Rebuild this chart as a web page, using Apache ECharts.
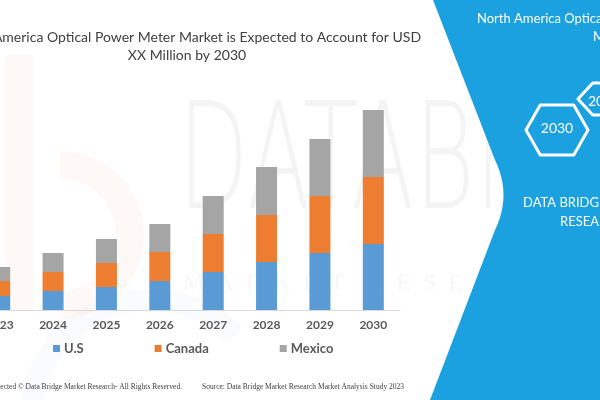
<!DOCTYPE html>
<html>
<head>
<meta charset="utf-8">
<script src="https://cdn.jsdelivr.net/npm/echarts@6/dist/echarts.min.js"></script>
<style>
html, body { margin: 0; padding: 0; background: #fff; overflow: hidden; }
/* chart is shifted left so the first year is cut like in the source image */
#main { position: absolute; left: -27px; top: 0; width: 627px; height: 400px; }
</style>
</head>
<body>
<div id="main"></div>
<script>
var years = ['2023', '2024', '2025', '2026', '2027', '2028', '2029', '2030'];
var usValues = [14, 19, 23, 29, 38, 48, 57, 66];
var canadaValues = [15, 19, 24, 29, 38, 47, 57, 67];
var mexicoValues = [14, 19, 24, 28, 38, 48, 57, 67];

var shift = 27;
var myChart = echarts.init(document.getElementById('main'));

function hexagon(x, y, w, h) {
	var c = w * 0.23;
	return [[x, y + h / 2], [x + c, y], [x + w - c, y], [x + w, y + h / 2], [x + w - c, y + h], [x + c, y + h]];
}

// blue panel on the right: straight edges with a rounded tip
function panelShape() {
	var pts = [[433, 0], [495, 160]];
	for (var i = 1; i < 12; i++) {
		var t = i / 12;
		var x = (1 - t) * (1 - t) * 495 + 2 * (1 - t) * t * 512 + t * t * 495;
		var y = (1 - t) * (1 - t) * 160 + 2 * (1 - t) * t * 195 + t * t * 230;
		pts.push([x, y]);
	}
	pts.push([495, 230], [430, 400], [600, 400], [600, 0]);
	return pts;
}

var option = {
	backgroundColor: '#ffffff',
	animation: false,
	title: {
		text: 'North America Optical Power Meter Market is Expected to Account for USD\nXX Million by 2030',
		left: 187 + shift,
		top: 28,
		padding: 0,
		textAlign: 'center',
		textStyle: {
			fontFamily: 'Lato',
			fontSize: 14,
			fontWeight: 'normal',
			color: '#404040',
			lineHeight: 18
		}
	},
	legend: {
		data: ['U.S', 'Canada', 'Mexico'],
		left: 53 + shift,
		top: 342,
		padding: 0,
		itemWidth: 7,
		itemHeight: 7,
		itemGap: 71,
		icon: 'rect',
		textStyle: {
			fontFamily: 'Lato',
			fontSize: 13,
			fontWeight: 'bold',
			color: '#595959',
			padding: [0, 0, 0, -1]
		}
	},
	grid: {
		left: 0,
		right: 200,
		top: 110,
		bottom: 90
	},
	xAxis: {
		type: 'category',
		data: years,
		axisTick: { show: false },
		axisLine: { lineStyle: { color: '#d9d9d9', width: 1 } },
		axisLabel: {
			margin: 9,
			fontFamily: 'Lato',
			fontSize: 12,
			fontWeight: 'bold',
			color: '#595959'
		}
	},
	yAxis: {
		type: 'value',
		min: 0,
		max: 200,
		show: false,
		splitLine: { show: false }
	},
	graphic: [{
		type: 'group',
		x: shift,
		y: 0,
		children: [
			{
				type: 'rect', z: -10, silent: true,
				shape: { x: 5, y: 55, width: 28, height: 255 },
				style: { fill: 'rgba(240,140,90,0.05)' }
			},
			{
				type: 'arc', z: -10, silent: true,
				shape: { cx: 60, cy: 235, r: 70, startAngle: -Math.PI / 2, endAngle: Math.PI / 2 },
				style: { stroke: 'rgba(240,140,90,0.05)', lineWidth: 28, fill: null }
			},
			{
				type: 'arc', z: -10, silent: true,
				shape: { cx: 150, cy: 420, r: 120, startAngle: Math.PI, endAngle: Math.PI * 1.75 },
				style: { stroke: 'rgba(120,140,170,0.035)', lineWidth: 22, fill: null }
			},
			{
				type: 'text', z: -10, silent: true,
				x: 178, y: 96, scaleX: 0.62,
				style: {
					text: 'DATABRIDGE',
					fontFamily: 'DejaVu Sans',
					fontSize: 148,
					fontWeight: 'lighter',
					fill: 'rgba(0,0,0,0.045)'
				}
			},
			{
				type: 'text', z: -10, silent: true,
				x: 183, y: 272,
				style: {
					text: 'M  A  R  K  E  T    R  E  S  E  A  R  C  H',
					fontFamily: 'Liberation Serif',
					fontSize: 24,
					fill: 'rgba(0,0,0,0.035)'
				}
			},
			{
				type: 'polygon', z: 10, silent: true,
				shape: { points: panelShape() },
				style: { fill: '#1ba0e0' }
			},
			{
				type: 'text', z: 11, silent: true,
				x: 477, y: 12,
				style: {
					text: 'North America Optical Power Meter',
					fontFamily: 'Lato', fontSize: 13, fill: '#ffffff'
				}
			},
			{
				type: 'text', z: 11, silent: true,
				x: 593, y: 30,
				style: { text: 'Market', fontFamily: 'Lato', fontSize: 13, fill: '#ffffff' }
			},
			{
				type: 'polygon', z: 11, silent: true,
				shape: { points: hexagon(526, 105, 62, 50) },
				style: { fill: null, stroke: '#ffffff', lineWidth: 3, lineJoin: 'round' }
			},
			{
				type: 'polygon', z: 11, silent: true,
				shape: { points: hexagon(578, 83, 64, 32) },
				style: { fill: null, stroke: '#ffffff', lineWidth: 3, lineJoin: 'round' }
			},
			{
				type: 'text', z: 11, silent: true,
				x: 557, y: 128,
				style: { text: '2030', fontFamily: 'Lato', fontSize: 14, fill: '#ffffff', align: 'center', verticalAlign: 'middle' }
			},
			{
				type: 'text', z: 11, silent: true,
				x: 588, y: 101,
				style: { text: '2023', fontFamily: 'Lato', fontSize: 14, fill: '#ffffff', align: 'left', verticalAlign: 'middle' }
			},
			{
				type: 'text', z: 11, silent: true,
				x: 523, y: 196,
				style: { text: 'DATA BRIDGE MARKET', fontFamily: 'Lato', fontSize: 13, fill: '#ffffff' }
			},
			{
				type: 'text', z: 11, silent: true,
				x: 560, y: 215,
				style: { text: 'RESEARCH', fontFamily: 'Lato', fontSize: 13, fill: '#ffffff' }
			},
			{
				type: 'text', silent: true,
				x: 182, y: 387,
				style: {
					text: 'Copyright Protected © Data Bridge Market Research- All Rights Reserved.',
					fontFamily: 'Liberation Serif', fontSize: 7.5, fill: '#404040',
					align: 'right', verticalAlign: 'middle'
				}
			},
			{
				type: 'text', silent: true,
				x: 202, y: 387,
				style: {
					text: 'Source: Data Bridge Market Research Market Analysis Study 2023',
					fontFamily: 'Liberation Serif', fontSize: 7.5, fill: '#404040',
					align: 'left', verticalAlign: 'middle'
				}
			}
		]
	}],
	series: [
		{
			name: 'U.S',
			type: 'bar',
			stack: 'total',
			barWidth: 21,
			itemStyle: { color: '#5b9bd5' },
			data: usValues
		},
		{
			name: 'Canada',
			type: 'bar',
			stack: 'total',
			barWidth: 21,
			itemStyle: { color: '#ed7d31' },
			data: canadaValues
		},
		{
			name: 'Mexico',
			type: 'bar',
			stack: 'total',
			barWidth: 21,
			itemStyle: { color: '#a5a5a5' },
			data: mexicoValues
		}
	]
};
myChart.setOption(option);
</script>
</body>
</html>
